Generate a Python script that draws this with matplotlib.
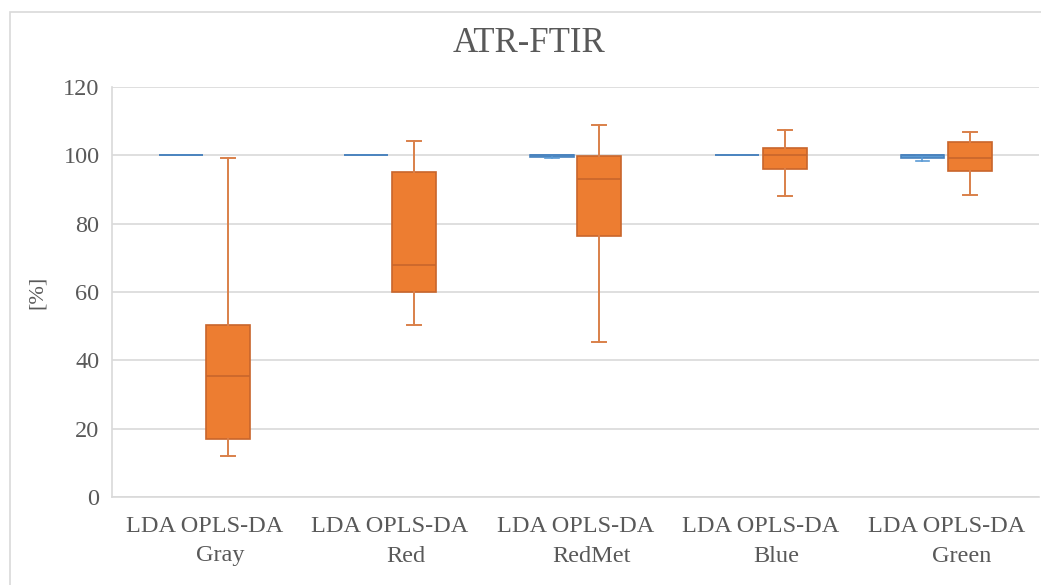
import numpy as np
import matplotlib
matplotlib.use('Agg')
import matplotlib.pyplot as plt
from matplotlib.patches import Rectangle
from matplotlib.transforms import blended_transform_factory

# ----------------------------------------------------------------------------------------------------
# データ
# ----------------------------------------------------------------------------------------------------
groups = ['Gray', 'Red', 'RedMet', 'Blue', 'Green']
pair_label = 'LDA OPLS-DA'

# whislo, q1, med, q3, whishi
lda_min = [100.0, 100.0, 99.2, 100.0, 98.4]
lda_q1 = [100.0, 100.0, 99.5, 100.0, 99.3]
lda_med = [100.0, 100.0, 100.0, 100.0, 100.0]
lda_q3 = [100.0, 100.0, 100.0, 100.0, 100.0]
lda_max = [100.0, 100.0, 100.0, 100.0, 100.0]

opls_min = [12.0, 50.3, 45.4, 88.1, 88.5]
opls_q1 = [16.9, 60.0, 76.3, 96.1, 95.3]
opls_med = [35.4, 67.8, 93.1, 100.0, 99.3]
opls_q3 = [50.3, 95.2, 99.8, 102.1, 103.8]
opls_max = [99.3, 104.2, 108.9, 107.4, 106.9]

yticks = [0, 20, 40, 60, 80, 100, 120]

plt.rcParams['font.family'] = ['Liberation Serif', 'DejaVu Serif']
TEXT = '#595959'
GRID = '#D9D9D9'


def make_stats(lo, q1, med, q3, hi):
	return [dict(whislo=a, q1=b, med=c, q3=d, whishi=e, fliers=[])
			for a, b, c, d, e in zip(lo, q1, med, q3, hi)]


# ----------------------------------------------------------------------------------------------------
# グラフ描画
# ----------------------------------------------------------------------------------------------------
fig = plt.figure(figsize=(10.41, 5.85), dpi=100)
ax = fig.add_axes([0.1076, 0.1504, 0.8904, 0.7009])

# 外枠
fig.patches.append(Rectangle((10 / 1041, -0.1), 1.2, 1 - 12 / 585 + 0.1,
							 transform=fig.transFigure, fill=False,
							 edgecolor=GRID, linewidth=1.2))

x = np.arange(len(groups))
off = 0.128
w = 0.237
cap = 0.075

lda_col = '#5B9BD5'
lda_edge = '#4A83BE'
opls_col = '#ED7D31'
opls_edge = '#C8652B'

ax.bxp(make_stats(lda_min, lda_q1, lda_med, lda_q3, lda_max), positions=x - off,
	   widths=w, capwidths=cap, showfliers=False, patch_artist=True,
	   boxprops=dict(facecolor=lda_col, edgecolor=lda_edge, linewidth=1.2),
	   medianprops=dict(color=lda_edge, linewidth=1.2),
	   whiskerprops=dict(color=lda_col, linewidth=1.2),
	   capprops=dict(color=lda_col, linewidth=1.2))

ax.bxp(make_stats(opls_min, opls_q1, opls_med, opls_q3, opls_max), positions=x + off,
	   widths=w, capwidths=cap, showfliers=False, patch_artist=True,
	   boxprops=dict(facecolor=opls_col, edgecolor=opls_edge, linewidth=1.2),
	   medianprops=dict(color=opls_edge, linewidth=1.2),
	   whiskerprops=dict(color='#D9804A', linewidth=1.4),
	   capprops=dict(color='#D9804A', linewidth=1.4))

ax.set_xlim(-0.5, len(groups) - 0.5)
ax.set_ylim(0, 120)
ax.set_yticks(yticks)
ax.yaxis.grid(True, color=GRID, linewidth=1.2)
ax.set_axisbelow(True)

for s in ['top', 'right']:
	ax.spines[s].set_visible(False)
ax.spines['left'].set_color(GRID)
ax.spines['bottom'].set_color(GRID)
ax.spines['left'].set_linewidth(1.2)
ax.spines['bottom'].set_linewidth(1.2)

ax.tick_params(axis='both', length=0, labelsize=17.5, colors=TEXT)
ax.tick_params(axis='y', pad=9)
ax.set_xticks(x)
ax.set_xticklabels([pair_label] * len(groups))
ax.tick_params(axis='x', pad=14)

# 2行目のカテゴリ名
trans = blended_transform_factory(ax.transData, fig.transFigure)
for i, g in enumerate(groups):
	ax.text(i + 0.085, 1 - 556 / 585, g, transform=trans, ha='center', va='center',
			fontsize=17.5, color=TEXT)

ax.set_ylabel('[%]', fontsize=16, color=TEXT, labelpad=12)
fig.text(0.508, 1 - 43 / 585, 'ATR-FTIR', ha='center', va='center', fontsize=25, color=TEXT)

plt.savefig('out.png', dpi=100)
plt.close(fig)
